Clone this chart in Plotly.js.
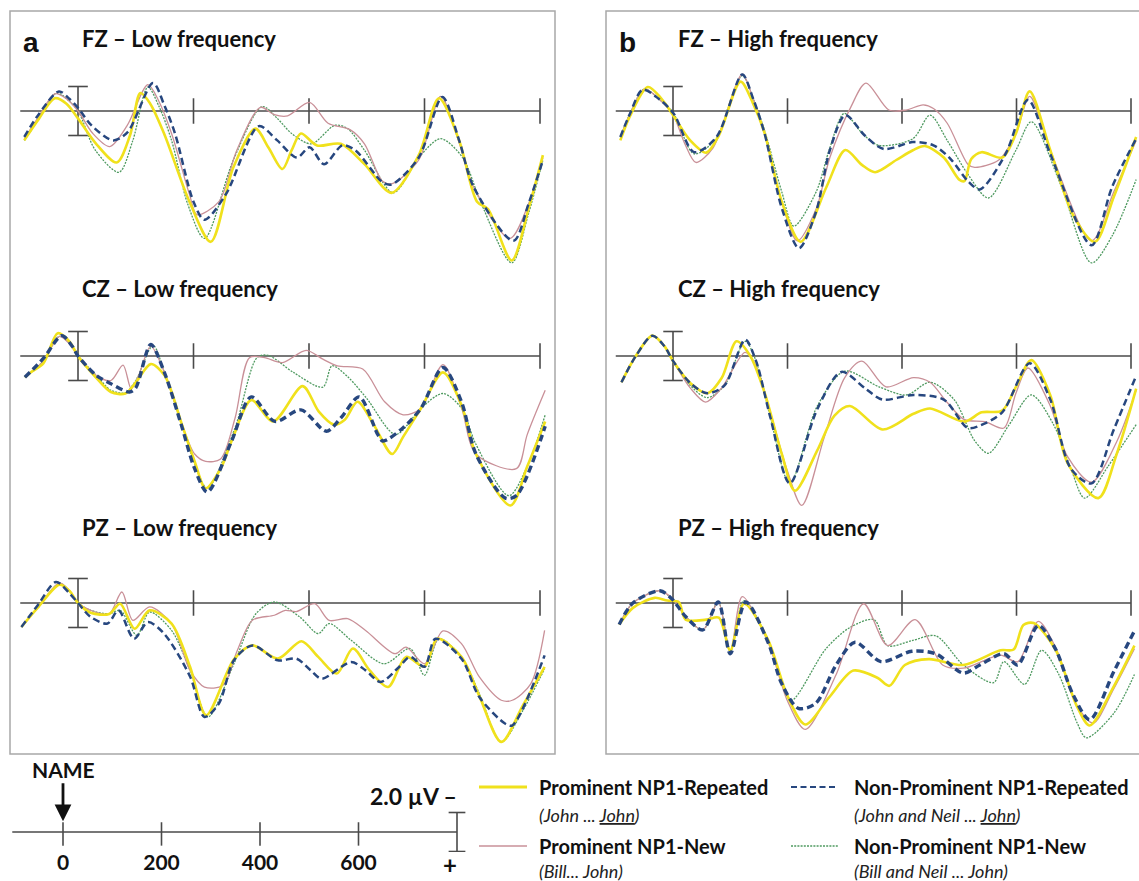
<!DOCTYPE html>
<html><head><meta charset="utf-8">
<script src="https://cdn.plot.ly/plotly-3.0.1.min.js"></script>
<style>html,body{margin:0;padding:0;background:#fff;}#chart{width:1139px;height:881px;}</style>
</head><body><div id="chart"></div>
<script>
// ===== DATA: ERP waveforms, [time (ms), amplitude (µV)], negative plotted up =====
const FZ_LOW_PR = [[-93,1.2],[-70,0.4],[-40,-0.52],[-20,-0.3],[0,0.3],[30,1.3],[67,2.1],[90,1.0],[108,-0.73],[125,-0.3],[149,0.92],[193,3.7],[230,5.34],[269,2.3],[307,0.72],[330,1.5],[354,2.37],[370,1.6],[386,0.92],[414,1.41],[455,1.34],[496,2.17],[543,3.34],[590,1.8],[625,-0.52],[660,1.2],[691,3.7],[710,4.0],[751,6.1],[780,4.0],[805,1.8]];
const FZ_LOW_PN = [[-93,1.13],[-70,0.3],[-40,-0.7],[-20,-0.5],[1,0.03],[25,0.9],[55,1.45],[85,0.6],[121,-1.08],[140,-0.4],[162,0.92],[193,3.4],[206,4.23],[244,3.7],[275,1.6],[316,-0.15],[340,0.15],[363,0.2],[401,-0.35],[433,0.5],[471,0.76],[496,1.34],[527,2.86],[543,2.97],[590,2.0],[628,-0.6],[660,1.3],[685,3.1],[748,5.2],[780,3.8],[805,1.9]];
const FZ_LOW_NR = [[-93,1.06],[-70,0.2],[-33,-0.8],[-15,-0.5],[1,-0.1],[23,0.58],[61,1.2],[86,0.86],[130,-1.14],[150,-0.2],[168,0.92],[200,3.7],[219,4.44],[256,3.4],[313,0.62],[345,1.2],[379,1.9],[401,1.48],[426,2.17],[458,1.4],[480,1.6],[527,2.9],[543,3.0],[590,1.9],[631,-0.57],[660,1.2],[685,3.1],[754,5.3],[780,3.8],[805,2.0]];
const FZ_LOW_NN = [[-93,1.2],[-70,0.4],[-37,-0.73],[-15,-0.4],[1,0.03],[30,1.6],[71,2.5],[95,1.2],[121,-0.98],[140,-0.2],[162,1.2],[190,3.8],[219,5.2],[269,2.0],[319,-0.18],[345,0.3],[370,0.92],[404,1.34],[445,0.58],[467,0.72],[496,1.6],[546,3.34],[590,1.9],[628,1.13],[666,1.9],[697,3.7],[751,6.2],[780,4.2],[805,2.0]];

const FZ_HIGH_PR = [[-92,1.2],[-75,0.2],[-44,-0.98],[-20,-0.5],[1,0.2],[30,1.2],[58,1.7],[80,1.0],[118,-1.2],[140,-0.3],[160,0.9],[190,3.7],[223,5.34],[268,3.1],[301,1.59],[330,2.2],[353,2.5],[390,2.0],[419,1.6],[440,1.43],[473,1.9],[500,2.8],[509,2.86],[521,1.96],[539,1.68],[575,1.9],[599,0.92],[623,-0.8],[659,1.6],[700,4.3],[737,5.34],[770,3.5],[809,1.06]];
const FZ_HIGH_PN = [[-92,1.06],[-75,0.1],[-50,-0.9],[-25,-0.5],[1,0.2],[20,1.3],[40,2.1],[70,1.5],[121,-1.5],[140,-0.5],[160,0.9],[190,3.7],[217,5.3],[250,4.0],[274,1.9],[311,-0.18],[337,-1.14],[377,-0.04],[407,-0.04],[437,-0.25],[455,-0.1],[479,0.5],[515,2.17],[527,2.3],[569,2.0],[599,0.92],[623,-0.6],[659,1.6],[731,5.3],[770,3.3],[809,1.2]];
const FZ_HIGH_NR = [[-92,1.06],[-75,0.1],[-53,-0.87],[-25,-0.5],[1,0.1],[37,1.68],[76,1.06],[121,-1.49],[140,-0.5],[160,0.92],[190,3.96],[220,5.6],[250,4.1],[274,1.6],[301,0.17],[335,1.0],[368,1.55],[419,1.27],[455,1.4],[485,1.96],[515,2.86],[536,3.2],[581,1.75],[620,-0.45],[659,1.75],[731,5.48],[767,3.1],[809,1.13]];
const FZ_HIGH_NN = [[-92,1.06],[-75,0.1],[-50,-0.9],[-25,-0.5],[1,0.1],[37,1.75],[76,1.1],[121,-1.45],[140,-0.5],[160,0.8],[190,3.3],[211,4.7],[250,3.3],[274,1.5],[299,0.1],[330,0.9],[359,1.4],[419,1.13],[449,0.17],[479,1.2],[515,2.58],[551,3.55],[599,1.6],[626,0.44],[677,3.0],[731,6.2],[767,5.1],[809,2.8]];

const CZ_LOW_PR = [[-92,0.87],[-82,0.67],[-60,0.3],[-35,-0.93],[-15,-0.6],[0,0.0],[32,0.9],[57,1.47],[82,1.53],[101,1.05],[126,0.33],[150,0.8],[180,2.8],[202,4.3],[221,5.4],[247,4.6],[266,3.47],[300,1.8],[338,2.67],[389,1.23],[417,2.27],[443,2.8],[462,2.6],[484,1.87],[512,2.8],[544,4.0],[563,3.3],[594,2.13],[632,0.67],[664,2.0],[689,4.0],[749,6.1],[778,4.5],[809,2.67]];
const CZ_LOW_PN = [[-92,0.87],[-60,0.2],[-32,-0.8],[-15,-0.5],[0,0.0],[32,0.8],[57,1.0],[78,0.37],[92,1.33],[105,0.8],[126,-0.4],[150,0.7],[180,2.8],[202,4.0],[221,4.3],[247,4.2],[272,2.53],[297,0.07],[323,0.07],[354,0.27],[395,-0.23],[424,0.13],[449,0.4],[493,0.53],[531,1.87],[563,2.4],[594,2.13],[632,0.35],[664,2.1],[689,4.0],[759,4.6],[778,3.2],[809,1.4]];
const CZ_LOW_NR = [[-92,0.87],[-60,0.1],[-28,-0.83],[-10,-0.4],[0,0.0],[32,0.8],[57,1.13],[89,1.47],[100,1.3],[126,-0.47],[150,0.7],[180,2.9],[202,4.6],[224,5.55],[266,3.47],[300,1.67],[341,2.67],[386,2.2],[430,3.07],[455,2.53],[487,1.67],[519,3.2],[528,3.47],[563,2.93],[594,2.13],[632,0.47],[664,1.87],[689,4.0],[740,5.8],[759,5.7],[809,2.87]];
const CZ_LOW_NN = [[-92,0.87],[-60,0.2],[-32,-0.8],[-10,-0.4],[0,0.0],[32,0.8],[57,1.4],[82,1.5],[100,1.0],[130,-0.43],[150,0.7],[180,2.8],[202,4.4],[224,5.4],[272,2.93],[310,0.07],[329,-0.03],[373,0.67],[424,1.27],[440,0.4],[468,0.87],[500,1.73],[550,3.2],[594,2.13],[632,1.53],[664,2.13],[689,3.6],[746,5.7],[778,4.5],[809,2.4]];

const CZ_HIGH_PR = [[-90,1.07],[-65,0.0],[-36,-0.83],[-15,-0.4],[0,0.2],[30,1.1],[60,1.52],[85,0.9],[111,-0.6],[135,0.0],[160,1.5],[190,4.0],[213,5.5],[252,3.85],[282,2.43],[309,2.04],[366,3.0],[420,2.36],[449,2.14],[509,2.68],[539,2.3],[575,2.23],[599,1.26],[626,0.17],[659,1.6],[689,4.36],[743,5.8],[775,4.0],[809,1.33]];
const CZ_HIGH_PN = [[-90,1.07],[-65,0.0],[-36,-0.83],[-15,-0.4],[0,0.2],[30,1.3],[57,1.88],[85,1.3],[126,-0.15],[145,0.4],[170,2.3],[200,4.7],[225,6.1],[264,3.33],[300,0.88],[330,0.21],[372,1.26],[420,0.88],[449,1.07],[479,1.9],[509,2.6],[545,2.68],[578,2.94],[599,1.52],[620,0.49],[659,2.04],[689,4.1],[731,5.15],[775,3.5],[809,1.39]];
const CZ_HIGH_NR = [[-90,1.07],[-65,0.0],[-36,-0.83],[-15,-0.4],[0,0.2],[30,1.1],[60,1.52],[90,1.2],[126,-0.67],[145,0.2],[170,2.5],[204,5.2],[252,2.17],[294,0.65],[336,1.33],[366,1.78],[420,1.59],[473,1.78],[515,2.94],[539,2.81],[575,2.3],[623,0.3],[659,1.78],[695,4.6],[731,5.2],[770,3.0],[809,0.81]];
const CZ_HIGH_NN = [[-90,1.07],[-65,0.0],[-36,-0.83],[-15,-0.4],[0,0.2],[30,1.2],[60,1.7],[90,1.2],[126,-0.6],[145,0.2],[170,2.5],[204,5.2],[252,2.04],[300,0.62],[360,1.26],[408,1.59],[449,1.07],[491,1.78],[527,3.46],[551,3.97],[587,2.81],[626,1.59],[665,2.81],[695,4.6],[719,5.8],[760,4.5],[809,2.8]];

const PZ_LOW_PR = [[-98,0.98],[-70,0.2],[-32,-0.75],[-15,-0.5],[0,0.0],[22,0.4],[54,0.45],[73,0.03],[98,1.05],[124,0.3],[162,0.84],[194,2.6],[222,4.58],[270,2.3],[302,1.73],[346,2.27],[387,1.56],[416,2.2],[448,2.88],[476,1.86],[505,2.75],[537,3.43],[568,2.2],[600,2.6],[622,1.46],[664,2.2],[695,3.8],[733,5.67],[770,4.2],[808,2.61]];
const PZ_LOW_PN = [[-98,0.98],[-70,0.2],[-32,-0.82],[-15,-0.5],[0,0.0],[22,0.3],[54,0.44],[76,-0.45],[95,0.71],[124,0.16],[162,0.84],[194,2.75],[219,3.43],[251,3.36],[276,1.93],[302,0.7],[340,0.5],[359,0.3],[378,0.35],[410,0.03],[435,0.71],[467,0.64],[498,1.12],[549,2.07],[568,1.8],[600,2.48],[632,1.14],[664,1.66],[695,3.02],[733,3.97],[752,3.97],[784,3.3],[808,1.12]];
const PZ_LOW_NR = [[-98,0.98],[-70,0.1],[-38,-0.86],[-15,-0.4],[0,0.0],[22,0.57],[51,0.84],[70,0.3],[97,1.46],[121,0.78],[149,1.25],[194,3.0],[219,4.65],[244,4.1],[270,2.34],[302,1.73],[346,2.34],[378,2.27],[403,2.75],[422,3.09],[473,2.41],[498,2.75],[524,3.22],[556,2.61],[575,2.2],[600,2.6],[619,1.46],[664,2.27],[695,3.84],[740,4.93],[752,5.0],[808,2.14]];
const PZ_LOW_NN = [[-98,0.98],[-70,0.2],[-32,-0.8],[-15,-0.5],[0,0.0],[22,0.3],[54,0.44],[73,0.3],[102,1.32],[124,0.37],[162,1.12],[194,2.75],[225,4.65],[270,2.48],[308,0.44],[340,-0.04],[384,0.57],[416,1.25],[435,0.84],[473,1.52],[530,2.48],[575,1.86],[600,2.95],[625,1.46],[664,2.2],[695,3.7],[733,5.67],[770,4.4],[808,2.68]];

const PZ_HIGH_PR = [[-94,0.88],[-70,0.2],[-32,-0.21],[-10,-0.1],[10,-0.04],[22,0.68],[58,0.68],[80,0.6],[100,1.93],[124,0.03],[166,1.5],[200,3.8],[231,4.96],[273,3.84],[315,2.76],[357,3.05],[378,3.38],[405,2.53],[447,2.29],[507,2.53],[572,1.93],[595,1.9],[612,0.9],[630,0.82],[668,1.9],[706,4.24],[728,5.0],[770,3.4],[806,1.74]];
const PZ_HIGH_PN = [[-94,0.88],[-70,0.0],[-23,-0.5],[-2,-0.2],[22,0.55],[52,1.1],[79,-0.04],[100,2.0],[121,-0.26],[166,1.6],[200,4.0],[231,5.16],[285,2.92],[333,0.03],[375,1.74],[423,0.68],[471,2.53],[507,2.66],[572,2.13],[602,2.4],[638,0.75],[668,1.8],[706,4.2],[734,4.9],[770,3.5],[806,1.87]];
const PZ_HIGH_NR = [[-94,0.88],[-70,0.0],[-23,-0.5],[-2,-0.17],[22,0.55],[52,1.1],[79,-0.04],[100,2.07],[127,-0.04],[166,1.6],[190,3.3],[219,4.3],[249,4.1],[285,2.53],[318,1.6],[363,2.39],[417,1.97],[459,2.07],[507,2.86],[536,2.53],[578,2.07],[602,2.53],[638,0.92],[668,1.87],[698,3.7],[728,4.76],[770,2.8],[806,1.14]];
const PZ_HIGH_NN = [[-94,0.88],[-70,0.0],[-23,-0.5],[-2,-0.17],[22,0.55],[52,1.1],[79,-0.04],[100,2.0],[124,-0.1],[166,1.5],[190,3.1],[207,3.97],[267,1.87],[309,1.0],[351,0.68],[375,1.74],[417,1.54],[459,1.34],[507,2.53],[560,3.25],[578,2.39],[614,3.32],[644,1.93],[674,2.92],[706,4.9],[722,5.5],[770,4.5],[806,2.92]];

const PANEL_TITLES = ["FZ – Low frequency","FZ – High frequency","CZ – Low frequency","CZ – High frequency","PZ – Low frequency","PZ – High frequency"];
const PANEL_LETTERS = ["a","b"];
const TICK_MS = [200,400,600,800];
const TIME_TICKS = [0,200,400,600];
const TIME_LABELS = ["0","200","400","600"];
const SCALE_UV = 1;          // scale bar half-length (µV)
const SCALE_LABEL = "2.0 µV –";
const ONSET_LABEL = "NAME";
const SERIES_NAMES = ["Prominent NP1-Repeated","Prominent NP1-New","Non-Prominent NP1-Repeated","Non-Prominent NP1-New"];
const SERIES_SUB = ["(John ... <u>John</u>)","(Bill... John)","(John and Neil ... <u>John</u>)","(Bill and Neil ... John)"];

const PANELS = [
  {PR:FZ_LOW_PR, PN:FZ_LOW_PN, NR:FZ_LOW_NR, NN:FZ_LOW_NN},
  {PR:FZ_HIGH_PR,PN:FZ_HIGH_PN,NR:FZ_HIGH_NR,NN:FZ_HIGH_NN},
  {PR:CZ_LOW_PR, PN:CZ_LOW_PN, NR:CZ_LOW_NR, NN:CZ_LOW_NN},
  {PR:CZ_HIGH_PR,PN:CZ_HIGH_PN,NR:CZ_HIGH_NR,NN:CZ_HIGH_NN},
  {PR:PZ_LOW_PR, PN:PZ_LOW_PN, NR:PZ_LOW_NR, NN:PZ_LOW_NN},
  {PR:PZ_HIGH_PR,PN:PZ_HIGH_PN,NR:PZ_HIGH_NR,NN:PZ_HIGH_NN}
];

// ===== STYLE / GEOMETRY =====
const W=1139, H=881;
const FONT='Lato, "Open Sans", sans-serif';
const AXC='#4a4a4a';
const STY = {
  PR:{color:'#f0e11c', width:2.6, dash:'solid'},
  PN:{color:'#c99098', width:1.3, dash:'solid'},
  NR:{color:'#27477f', width:2.5, dash:'7px,4px'},
  NN:{color:'#4f9a60', width:1.3, dash:'2px,1.2px'}
};
const THICK_NR = [2,5];
const DRAW_ORDER = ['NN','PN','PR','NR'];
const COLS=[{d:[10,555],z:78,k:0.5775},{d:[606,1139],z:673,k:0.5725}];
const ROWS=[{d:[45,300],b:111,t:39},{d:[300,552],b:356,t:288},{d:[552,756],b:603,t:527}];
const KUV=24.5;
const BOT={d:[0,480], z:63, k:0.4925, yd:[800,852], b:832, kuv:19.5};

const px=(x)=>x/W, py=(y)=>1-y/H;

const layout={width:W,height:H,margin:{l:0,r:0,t:0,b:0},paper_bgcolor:'#fff',plot_bgcolor:'rgba(0,0,0,0)',showlegend:false,shapes:[],annotations:[],font:{family:FONT}};
const traces=[];
const hiddenAx={visible:false,fixedrange:true,showgrid:false,zeroline:false};

PANELS.forEach((P,i)=>{
  const r=Math.floor(i/2), c=i%2, C=COLS[c], R=ROWS[r];
  const n=i+1, xa='x'+n, ya='y'+n;
  layout['xaxis'+n]=Object.assign({},hiddenAx,{domain:[px(C.d[0]),px(C.d[1])],range:[(C.d[0]-C.z)/C.k,(C.d[1]-C.z)/C.k],anchor:ya});
  layout['yaxis'+n]=Object.assign({},hiddenAx,{domain:[py(R.d[1]),py(R.d[0])],range:[(R.d[1]-R.b)/KUV,(R.d[0]-R.b)/KUV],anchor:xa});
  const ln={color:AXC,width:1.6};
  layout.shapes.push({type:'line',xref:xa,yref:ya,x0:-100,x1:800,y0:0,y1:0,line:ln,layer:'below'});
  TICK_MS.forEach(t=>layout.shapes.push({type:'line',xref:xa,yref:ya,x0:t,x1:t,y0:-0.52,y1:0.52,line:ln,layer:'below'}));
  layout.shapes.push({type:'line',xref:xa,yref:ya,x0:0,x1:0,y0:-SCALE_UV,y1:SCALE_UV,line:ln,layer:'below'});
  [-SCALE_UV,SCALE_UV].forEach(v=>layout.shapes.push({type:'line',xref:xa,yref:ya,x0:-17,x1:17,y0:v,y1:v,line:ln,layer:'below'}));
  DRAW_ORDER.forEach(k=>{
    const s=STY[k];
    const w=(k==='NR'&&THICK_NR.includes(i))?3.4:s.width;
    traces.push({type:'scatter',mode:'lines',x:P[k].map(d=>d[0]),y:P[k].map(d=>d[1]),xaxis:xa,yaxis:ya,
      line:{shape:'spline',smoothing:0.85,color:s.color,width:w,dash:s.dash},hoverinfo:'skip',showlegend:false});
  });
  layout.annotations.push({xref:'paper',yref:'paper',x:px(C.d[0]+70),y:py(R.t),xanchor:'left',yanchor:'middle',showarrow:false,
    text:'<b>'+PANEL_TITLES[i]+'</b>',font:{family:FONT,size:22,color:'#111'}});
});
COLS.forEach((C,c)=>{
  layout.shapes.push({type:'rect',xref:'paper',yref:'paper',x0:px(C.d[0]),x1:px(C.d[1]+(c?40:0)),y0:py(754),y1:py(11),line:{color:'#a8a8a8',width:1.5},layer:'below'});
  layout.annotations.push({xref:'paper',yref:'paper',x:px(C.d[0]+11),y:py(42),xanchor:'left',yanchor:'middle',showarrow:false,
    text:'<b>'+PANEL_LETTERS[c]+'</b>',font:{family:'"Liberation Sans", Arial, sans-serif',size:28,color:'#111'}});
});

// bottom time axis (x7/y7)
layout.xaxis7={visible:true,fixedrange:true,showgrid:false,zeroline:false,showline:false,ticks:'',ticklabelstandoff:-4,
  domain:[px(BOT.d[0]),px(BOT.d[1])],range:[(BOT.d[0]-BOT.z)/BOT.k,(BOT.d[1]-BOT.z)/BOT.k],anchor:'y7',
  tickmode:'array',tickvals:TIME_TICKS,ticktext:TIME_LABELS,tickfont:{family:FONT,size:21,color:'#111',weight:'bold'}};
layout.yaxis7={visible:false,fixedrange:true,domain:[py(BOT.yd[1]),py(BOT.yd[0])],
  range:[(BOT.yd[1]-BOT.b)/BOT.kuv,(BOT.yd[0]-BOT.b)/BOT.kuv],anchor:'x7'};
const bl={color:AXC,width:1.6};
layout.shapes.push({type:'line',xref:'x7',yref:'y7',x0:-103,x1:800,y0:0,y1:0,line:bl});
TIME_TICKS.forEach(t=>layout.shapes.push({type:'line',xref:'x7',yref:'y7',x0:t,x1:t,y0:-0.5,y1:0.7,line:bl}));
layout.shapes.push({type:'line',xref:'x7',yref:'y7',x0:800,x1:800,y0:-SCALE_UV,y1:SCALE_UV,line:bl});
[-SCALE_UV,SCALE_UV].forEach(v=>layout.shapes.push({type:'line',xref:'x7',yref:'y7',x0:783,x1:817,y0:v,y1:v,line:bl}));
layout.annotations.push({xref:'x7',yref:'y7',x:0,y:-0.55,ax:0,ay:-52,showarrow:true,arrowhead:2,arrowsize:1.2,arrowwidth:2.8,arrowcolor:'#111',
  text:'<b>'+ONSET_LABEL+'</b>',font:{family:FONT,size:21,color:'#111'}});
layout.annotations.push({xref:'paper',yref:'paper',x:px(459),y:py(796),xanchor:'right',yanchor:'middle',showarrow:false,
  text:'<b>'+SCALE_LABEL+'</b>',font:{family:FONT,size:23,color:'#111'}});
layout.annotations.push({xref:'paper',yref:'paper',x:px(450),y:py(864),xanchor:'center',yanchor:'middle',showarrow:false,
  text:'<b>+</b>',font:{family:FONT,size:24,color:'#111'}});

// legend (custom, two columns)
const LEG=[{k:'PR',sx:[479,527],tx:537,y:787,sy:815},{k:'PN',sx:[479,527],tx:537,y:846,sy:871},
           {k:'NR',sx:[791,838],tx:852,y:787,sy:815},{k:'NN',sx:[791,838],tx:852,y:846,sy:871}];
const ORDER_IDX={PR:0,PN:1,NR:2,NN:3};
LEG.forEach(L=>{
  const s=STY[L.k], j=ORDER_IDX[L.k];
  layout.shapes.push({type:'line',xref:'paper',yref:'paper',x0:px(L.sx[0]),x1:px(L.sx[1]),y0:py(L.y),y1:py(L.y),
    line:{color:s.color,width:L.k==='PR'?3:(L.k==='NR'?2.2:s.width),dash:L.k==='NR'?'6px,3.5px':s.dash}});
  layout.annotations.push({xref:'paper',yref:'paper',x:px(L.tx),y:py(L.y),xanchor:'left',yanchor:'middle',showarrow:false,
    text:'<b>'+SERIES_NAMES[j]+'</b>',font:{family:FONT,size:20,color:'#111'}});
  layout.annotations.push({xref:'paper',yref:'paper',x:px(L.tx),y:py(L.sy),xanchor:'left',yanchor:'middle',showarrow:false,
    text:'<i>'+SERIES_SUB[j]+'</i>',font:{family:FONT,size:18,color:'#222'}});
});

Plotly.newPlot('chart',traces,layout,{staticPlot:true,displayModeBar:false});
</script></body></html>
